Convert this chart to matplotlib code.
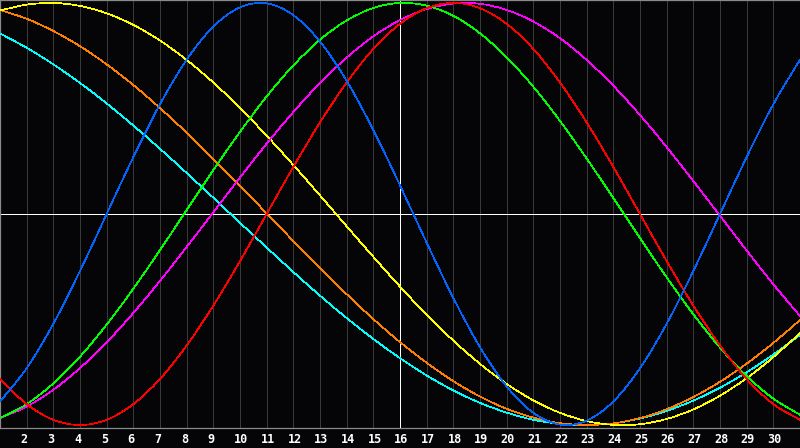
import matplotlib
matplotlib.use("Agg")
import matplotlib.pyplot as plt
from matplotlib.path import Path
from matplotlib.patches import PathPatch
from matplotlib.transforms import blended_transform_factory

days = list(range(1, 32))
tick_days = list(range(2, 31))
today = 16

# cycle values (-1..1), one per day from day 1 to day 31
physical = [-0.888, -0.731, -0.520, -0.270, 0.000, 0.270, 0.520, 0.731, 0.888, 0.979,
            0.998, 0.942, 0.817, 0.631, 0.398, 0.136, -0.136, -0.398, -0.631, -0.817,
            -0.942, -0.998, -0.979, -0.888, -0.731, -0.520, -0.270, 0.000, 0.270, 0.520,
            0.731]
emotional = [-0.782, -0.901, -0.975, -1.000, -0.975, -0.901, -0.782, -0.623, -0.434, -0.223,
             0.000, 0.223, 0.434, 0.623, 0.782, 0.901, 0.975, 1.000, 0.975, 0.901,
             0.782, 0.623, 0.434, 0.223, 0.000, -0.223, -0.434, -0.623, -0.782, -0.901,
             -0.975]
intellectual = [-0.967, -0.901, -0.803, -0.676, -0.524, -0.354, -0.171, 0.019, 0.208, 0.389,
                0.557, 0.704, 0.826, 0.917, 0.976, 1.000, 0.987, 0.939, 0.856, 0.743,
                0.603, 0.441, 0.263, 0.076, -0.114, -0.300, -0.475, -0.633, -0.768, -0.875,
                -0.951]
intuitive = [-0.967, -0.912, -0.833, -0.730, -0.608, -0.469, -0.317, -0.156, 0.008, 0.173,
             0.333, 0.483, 0.621, 0.741, 0.842, 0.919, 0.971, 0.997, 0.996, 0.967,
             0.912, 0.833, 0.730, 0.608, 0.469, 0.317, 0.156, -0.008, -0.173, -0.333,
             -0.483]
aesthetic = [0.964, 0.992, 1.000, 0.986, 0.951, 0.896, 0.822, 0.730, 0.623, 0.502,
             0.371, 0.232, 0.088, -0.058, -0.203, -0.344, -0.477, -0.600, -0.710, -0.805,
             -0.883, -0.942, -0.981, -0.999, -0.996, -0.971, -0.926, -0.861, -0.778, -0.678,
             -0.564]
awareness = [0.967, 0.925, 0.867, 0.795, 0.709, 0.611, 0.502, 0.385, 0.261, 0.133,
             0.003, -0.128, -0.256, -0.380, -0.498, -0.607, -0.705, -0.792, -0.865, -0.923,
             -0.965, -0.991, -1.000, -0.992, -0.967, -0.925, -0.867, -0.795, -0.709, -0.611,
             -0.502]
spiritual = [0.855, 0.788, 0.709, 0.621, 0.524, 0.419, 0.309, 0.194, 0.077, -0.042,
             -0.159, -0.275, -0.387, -0.493, -0.592, -0.683, -0.765, -0.836, -0.895, -0.941,
             -0.975, -0.994, -1.000, -0.992, -0.969, -0.933, -0.884, -0.823, -0.750, -0.666,
             -0.573]

series = [
    (spiritual, "#00ffff"),
    (awareness, "#ff8000"),
    (aesthetic, "#ffff00"),
    (intuitive, "#ff00ff"),
    (intellectual, "#00ff00"),
    (emotional, "#ff0000"),
    (physical, "#0064ff"),
]


def smooth_path(xs, ys):
    # catmull-rom style bezier through the day values
    n = len(xs)
    verts = [(xs[0], ys[0])]
    codes = [Path.MOVETO]
    for i in range(n - 1):
        i0 = max(i - 1, 0)
        i3 = min(i + 2, n - 1)
        c1 = (xs[i] + (xs[i + 1] - xs[i0]) / 6, ys[i] + (ys[i + 1] - ys[i0]) / 6)
        c2 = (xs[i + 1] - (xs[i3] - xs[i]) / 6, ys[i + 1] - (ys[i3] - ys[i]) / 6)
        verts += [c1, c2, (xs[i + 1], ys[i + 1])]
        codes += [Path.CURVE4] * 3
    return Path(verts, codes)


bg = "#050508"
fig = plt.figure(figsize=(8, 4.48), dpi=100, facecolor=bg)
ax = fig.add_axes([0, 20 / 448, 1, 428 / 448])
ax.set_facecolor(bg)

for d in tick_days:
    ax.axvline(d, color="#3a3a3a", linewidth=0.72, antialiased=False, zorder=1)
ax.axvline(today, color="white", linewidth=0.72, antialiased=False, zorder=2)
ax.axhline(0, color="white", linewidth=0.72, antialiased=False, zorder=2)

for vals, col in series:
    ax.add_patch(PathPatch(smooth_path(days, vals), fill=False, edgecolor=col,
                           linewidth=0.5, antialiased=False, zorder=3))

ax.set_xlim(1, 31)
ax.set_ylim(-1.014, 1.014)
ax.set_xticks([])
ax.set_yticks([])
for s in ax.spines.values():
    s.set_color("#8a8a8a")
    s.set_linewidth(0.9)
ax.spines["right"].set_visible(False)

trans = blended_transform_factory(ax.transData, fig.transFigure)
for d in tick_days:
    ax.text(d - 0.22, 1 - 439 / 448, str(d), transform=trans, ha="left", va="center",
            color="white", fontsize=8.5, fontweight="bold", family="DejaVu Sans Mono",
            clip_on=False)

fig.savefig("out.png", dpi=100, facecolor=fig.get_facecolor())
